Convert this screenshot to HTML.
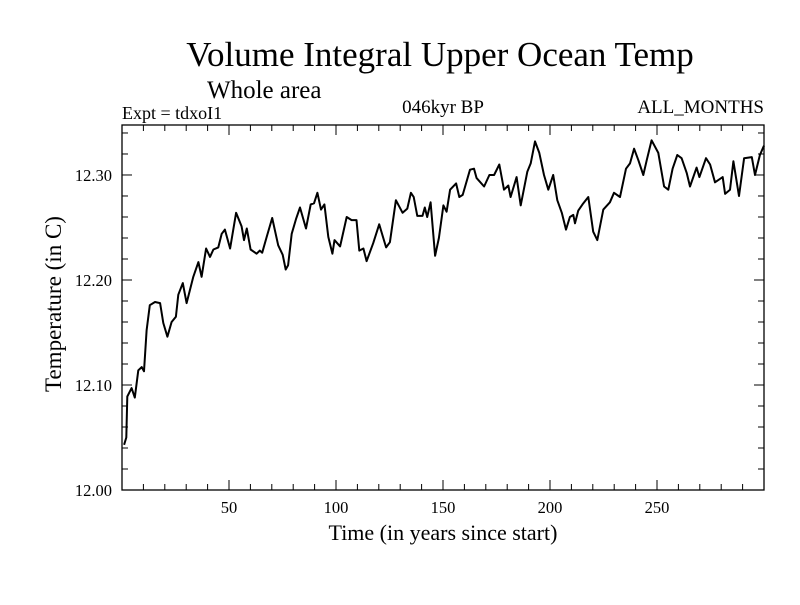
<!DOCTYPE html>
<html><head><meta charset="utf-8"><style>
body{margin:0;background:#fff;}
svg text{font-family:"Liberation Serif",serif;fill:#000;}
</style></head><body>
<svg id="chart" width="800" height="600" xmlns="http://www.w3.org/2000/svg">
<text x="440" y="66" font-size="35" text-anchor="middle">Volume Integral Upper Ocean Temp</text>
<text x="207" y="98" font-size="25">Whole area</text>
<text x="122" y="119" font-size="18">Expt = tdxoI1</text>
<text x="443" y="113" font-size="19" text-anchor="middle">046kyr BP</text>
<text x="764" y="113" font-size="19" text-anchor="end">ALL_MONTHS</text>
<text transform="translate(61,304) rotate(-90)" font-size="23" text-anchor="middle">Temperature (in C)</text>
<text x="443" y="540" font-size="22" text-anchor="middle">Time (in years since start)</text>
<g id="axes"></g>
<path id="line" fill="none" stroke="#000" stroke-width="2" stroke-linejoin="round"/>
<rect x="122" y="125" width="642" height="365" fill="none" stroke="#000" stroke-width="1.3"/>
</svg>
<script>
const years=[1,2,2.5,4.5,6,7.6,9.2,10.3,11.5,13,15.4,17.8,19.3,21.2,23.2,25.2,26.3,28.4,30.2,33.3,35.7,37.2,39.3,41.1,42.7,45,46.6,48.1,50.5,53.3,55.9,57,58.3,60.1,62.9,64.4,65.5,67.6,70.2,73,75.1,76.5,77.6,79.3,81.3,83.2,86,88.2,89.7,91.3,93,94.6,96.4,98.3,99.3,101.9,105,107.3,109.6,110.9,112.8,114.3,117.4,120.2,123.4,125.2,128,131.1,133.3,135,136.3,138,140.4,141.5,142.6,144.2,146.3,148.1,150.2,151.7,153.3,156.1,157.6,159.2,162.6,164.5,165.7,169.2,171.7,173.9,176.3,178.5,180.5,181.6,184.4,186.3,189.4,191,193,195,197.2,199.2,201.5,203.4,205.5,207.5,209.3,210.9,211.7,213.2,215.2,217.9,220.2,222.1,224.9,228,229.9,232.7,235.5,237.4,239.3,241.3,243.6,245.2,247.5,250.6,253.3,255.3,257.3,259.5,261.5,263.9,265.4,268.5,269.8,272.9,274.8,277.1,280.7,281.8,284.1,285.7,288.3,290.7,294.3,295.8,298.1,300];
const temps=[12.043,12.050,12.089,12.097,12.088,12.114,12.117,12.113,12.152,12.176,12.179,12.178,12.159,12.146,12.160,12.165,12.186,12.197,12.178,12.203,12.217,12.203,12.230,12.222,12.229,12.231,12.244,12.248,12.230,12.264,12.251,12.238,12.249,12.229,12.225,12.228,12.226,12.241,12.259,12.233,12.224,12.210,12.214,12.244,12.258,12.269,12.249,12.272,12.273,12.283,12.267,12.272,12.241,12.225,12.238,12.232,12.260,12.257,12.257,12.228,12.230,12.218,12.235,12.253,12.231,12.236,12.276,12.264,12.268,12.283,12.279,12.261,12.261,12.269,12.260,12.274,12.223,12.240,12.271,12.265,12.286,12.292,12.279,12.281,12.305,12.306,12.297,12.289,12.300,12.300,12.310,12.286,12.290,12.279,12.298,12.271,12.303,12.311,12.332,12.321,12.300,12.286,12.300,12.276,12.264,12.248,12.260,12.262,12.254,12.266,12.272,12.279,12.246,12.238,12.267,12.274,12.283,12.279,12.306,12.311,12.325,12.314,12.300,12.314,12.333,12.321,12.289,12.286,12.306,12.319,12.316,12.302,12.289,12.307,12.298,12.316,12.310,12.293,12.298,12.282,12.286,12.313,12.280,12.316,12.317,12.300,12.319,12.328];
const xTickLabels=[50,100,150,200,250];
const yTickLabels=["12.00","12.10","12.20","12.30"];
const X0=122,X1=764,Y0=490,Y1=125;
const xs=v=>X0+(v-0)/300*(X1-X0);
const ys=v=>Y0-(v-12.0)/0.3476*(Y0-Y1);
const ns="http://www.w3.org/2000/svg";
const axes=document.getElementById('axes');
function ln(x1,y1,x2,y2,name){const l=document.createElementNS(ns,'line');
l.setAttribute('x1',x1);l.setAttribute('y1',y1);l.setAttribute('x2',x2);l.setAttribute('y2',y2);
l.setAttribute('stroke','#000');l.setAttribute('stroke-width','1');


axes.appendChild(l);}
for(let t=10;t<300;t+=10){const x=xs(t);const L=t%50===0?10:6;
ln(x,Y0,x,Y0-L,'x-tick');ln(x,Y1,x,Y1+L,'x-tick');}
for(let v=12.02;v<12.345;v+=0.02){const y=ys(v);const major=Math.abs(Math.round(v*10)/10-v)<0.001;const L=major?10:6;
ln(X0,y,X0+L,y,'y-tick');ln(X1,y,X1-L,y,'y-tick');}
xTickLabels.forEach(t=>{const e=document.createElementNS(ns,'text');
e.setAttribute('x',xs(t));e.setAttribute('y',Y0+23);e.setAttribute('font-size','16.5');e.setAttribute('text-anchor','middle');
e.textContent=t;


axes.appendChild(e);});
yTickLabels.forEach(t=>{const e=document.createElementNS(ns,'text');
e.setAttribute('x',112);e.setAttribute('y',ys(parseFloat(t))+6);e.setAttribute('font-size','16.5');e.setAttribute('text-anchor','end');
e.textContent=t;


axes.appendChild(e);});
document.getElementById('line').setAttribute('d',years.map((y,i)=>(i?'L':'M')+xs(y).toFixed(1)+' '+ys(temps[i]).toFixed(1)).join(' '));
</script>
</body></html>
